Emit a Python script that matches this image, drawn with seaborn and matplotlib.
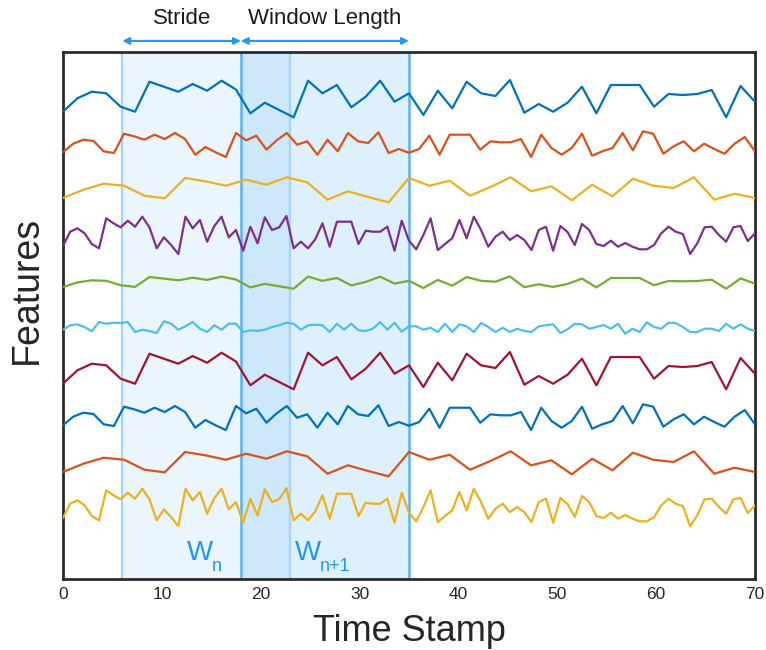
import numpy as np
import pandas as pd
import matplotlib.pyplot as plt
import seaborn as sns

# feature signals (deviation from each trace's own baseline)
feat_a = [-1.17, 0.17, 0.83, 0.67, -0.67, -1.17, 1.83, 1.33, 0.83, 1.6,
          0.93, 1.93, 1.05, -1.33, -0.27, -1.0, -1.73, 1.93, 0.67, 1.5,
          -0.73, 0.33, 1.93, -0.17, 0.67, -1.5, 0.93, -0.83, 1.83, 0.67,
          0.4, 2.0, -1.27, -0.4, -1.17, -0.27, 1.33, -1.33, 1.5, 1.5,
          1.5, -0.67, 0.6, 0.5, 0.6, 1.0, -1.73, 1.4, -0.17]
feat_b = [-0.93, -0.07, 0.33, 0.2, -0.83, -1.0, 0.93, 0.67, 0.33, 0.83,
          0.4, 1.0, 0.4, -1.17, -0.4, -0.93, -1.4, 1.0, 0.27, 0.73,
          -0.67, 0.27, 1.0, -0.17, 0.17, -1.17, 0.33, -0.83, 1.0, 0.17,
          0.0, 1.07, -1.0, -0.6, -0.97, -0.6, 0.73, -1.17, 0.83, 0.83,
          0.83, -0.67, 0.17, 0.07, 0.07, 0.4, -1.4, 0.83, -0.5, -1.17,
          -0.5, 0.93, -1.27, -0.83, -0.5, 1.0, -0.73, 1.17, 0.93, -1.07,
          -0.33, 0.17, -0.83, -0.07, -0.6, -1.07, -0.07, 0.6, -0.83]
feat_c = [-1.0, -0.17, 0.43, 0.23, -0.77, -1.03, 1.0, 0.67, 0.23, 0.83,
          0.33, 1.07, 0.57, -1.17, -0.33, -0.9, -1.43, 1.0, 0.23, 0.73,
          -0.77, 0.1, 1.07, -0.33, 0.17, -1.23, 0.33, -0.83, 0.93, 0.23,
          0.0, 1.07, -1.17, -0.57, -1.0]
feat_d = [-1.1, 0.33, 0.67, 0.17, -0.9, -1.33, 1.67, 1.17, 0.77, 1.43,
          0.83, 1.83, 0.77, -1.33, -0.23, -1.0, -1.9, 1.83, 0.67, 1.5,
          -0.67, 0.9, 1.83, -0.23, 0.5, -1.57, 0.83, -0.83, 1.77, 0.5,
          0.77, 1.9, -1.33, -0.67, -1.33, -0.43, 1.17, -1.17, 1.33, 1.33,
          1.33, -0.9, 0.43, 0.33, 0.33, 0.83, -1.57, 1.43, -0.57, -1.43,
          0.0, 1.67, -1.5, -0.9, -0.33, 1.5, -0.33, 1.83, 0.5, -1.17,
          -0.17, 0.33, -0.5, 0.0, -0.5, -1.5, 0.5, 0.83, -1.57, 0.9,
          0.3, -1.0, 1.1, 0.5, -0.9, -1.1, -0.57, -1.17, -0.8, -1.17,
          -1.43, -1.43, -1.0, 0.17, 0.83, 0.33, 0.1, -1.9, -0.83, 0.77,
          0.83, 0.0, -0.67, 0.77, 0.9, -0.6, 0.17]
feat_g = [-0.39, 0.06, 0.27, 0.22, -0.22, -0.39, 0.6, 0.44, 0.27, 0.53,
          0.31, 0.64, 0.35, -0.44, -0.09, -0.33, -0.57, 0.64, 0.22, 0.5,
          -0.24, 0.11, 0.64, -0.06, 0.22, -0.5, 0.31, -0.27, 0.6, 0.22,
          0.13, 0.66, -0.42, -0.13, -0.39, -0.09, 0.44, -0.44, 0.5, 0.5,
          0.5, -0.22, 0.2, 0.17, 0.2, 0.33, -0.57, 0.46, -0.06]
feat_e = [-0.27, 0.17, 0.27, 0.0, -0.43, 0.5, 0.33, 0.43, 0.4, 0.5,
          -0.5, -0.27, -0.4, -0.6, 0.57, 0.33, -0.27, 0.07, 0.5, -0.17,
          -0.5, 0.17, -0.27, 0.33, 0.33, -0.5, -0.33, -0.4, -0.27, 0.0,
          0.17, 0.43, 0.33, -0.27, 0.17, 0.23, 0.17, -0.5, 0.33, -0.27,
          0.33, -0.33, -0.4, -0.17, 0.5, -0.27, 0.43, -0.47, 0.07, 0.07,
          -0.27, -0.07, -0.5, 0.33, -0.5, 0.27, 0.07, -0.5, 0.4, 0.0,
          -0.5, -0.07, -0.5, -0.17, -0.4, -0.5, 0.07, 0.17, 0.27, -0.6,
          -0.23, 0.33, 0.27, -0.17, 0.0, 0.2, -0.17, 0.33, -0.67, -0.17,
          -0.5, 0.47, 0.0, -0.17, 0.43, 0.4, 0.0, -0.5, -0.5, -0.17,
          -0.17, -0.4, 0.33, -0.17, 0.27, -0.17, -0.4]

feature_signals = [feat_a, feat_b, feat_c, feat_d, feat_g,
                   feat_e, feat_a, feat_b, feat_c, feat_d]
feature_offsets = [47.9, 43.6, 39.1, 34.4, 29.6, 25.2, 20.7, 16.3, 11.7, 7.2]
feature_colors = ['#0072BD', '#D95319', '#EDB120', '#7E2F8E', '#77AC30',
                  '#4DBEEE', '#A2142F', '#0072BD', '#D95319', '#EDB120']

t_max = 70
window_n = (6, 23)
window_n1 = (18, 35)
stride = (6, 18)
win_len = (18, 35)

# long table, one trace per feature
rows = []
for i, (sig, off) in enumerate(zip(feature_signals, feature_offsets)):
    t = np.linspace(0, t_max, len(sig))
    for tt, v in zip(t, sig):
        rows.append({"t": tt, "value": off + v, "feature": f"F{i + 1}"})
df = pd.DataFrame(rows)

sns.set_style("white")
plt.rcParams['font.family'] = ['Liberation Sans', 'DejaVu Sans']

fig = plt.figure(figsize=(7.66, 6.5), dpi=100)
ax = fig.add_axes([0.0822, 0.1092, 0.9034, 0.8108])

blue = '#2196F3'
ax.axvspan(*window_n, facecolor=blue, alpha=0.09, lw=0, zorder=0)
ax.axvspan(*window_n1, facecolor=blue, alpha=0.14, lw=0, zorder=0)
for xv in window_n:
    ax.axvline(xv, color='#A6D4F8', lw=1.6, zorder=1)
for xv in window_n1:
    ax.axvline(xv, color='#5AB2F2', lw=1.8, zorder=1)

sns.lineplot(data=df, x="t", y="value", hue="feature",
             palette=dict(zip([f"F{i + 1}" for i in range(10)], feature_colors)),
             estimator=None, legend=False, linewidth=1.6, ax=ax, zorder=3)

ax.set_xlim(0, t_max)
ax.set_ylim(0, 52.7)
ax.set_xticks(range(0, 71, 10))
ax.set_yticks([])
ax.tick_params(axis='x', length=0, pad=6, labelsize=12.5)
for s in ax.spines.values():
    s.set_visible(True)
    s.set_color('#2b2b2b')
    s.set_linewidth(2)

ax.set_xlabel("Time Stamp", fontsize=26)
ax.set_ylabel("Features", fontsize=27)
ax.xaxis.set_label_coords(0.5, -0.066)
ax.yaxis.set_label_coords(-0.026, 0.548)

# stride / window length arrows above the axes
tr = ax.get_xaxis_transform()
for (a, b), label in [(stride, "Stride"), (win_len, "Window Length")]:
    ax.annotate("", xy=(b, 1.021), xytext=(a, 1.021), xycoords=tr,
                textcoords=tr, annotation_clip=False,
                arrowprops=dict(arrowstyle='<|-|>', color=blue, lw=1.5,
                                shrinkA=0, shrinkB=0, mutation_scale=10))
    ax.text((a + b) / 2, 1.064, label, transform=tr, ha='center',
            va='center', fontsize=16, color='#1a1a1a')

# window names
ax.text(13.9, 0.036, "W", transform=tr, ha='center', va='baseline',
        fontsize=20, color=blue)
ax.text(15.1, 0.016, "n", transform=tr, ha='left', va='baseline',
        fontsize=13, color=blue)
ax.text(24.8, 0.036, "W", transform=tr, ha='center', va='baseline',
        fontsize=20, color=blue)
ax.text(26.0, 0.016, "n+1", transform=tr, ha='left', va='baseline',
        fontsize=13, color=blue)

plt.savefig("out.png", dpi=100)
